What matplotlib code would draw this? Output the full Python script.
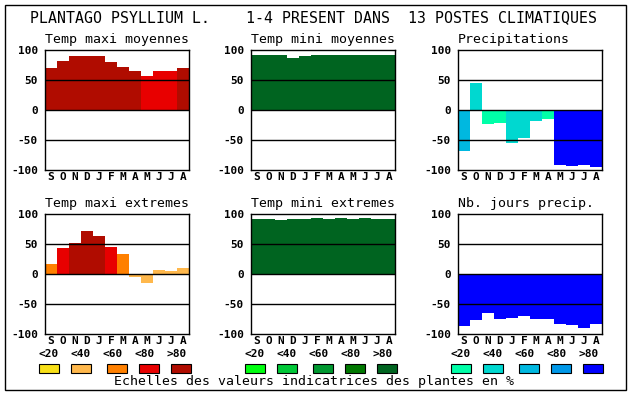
import matplotlib
matplotlib.use("Agg")
import matplotlib.pyplot as plt
from matplotlib.patches import Rectangle

W, H = 630, 394

months = ["S", "O", "N", "D", "J", "F", "M", "A", "M", "J", "J", "A"]
scale_labels = ["<20", "<40", "<60", "<80", ">80"]
yticks = [100, 50, 0, -50, -100]

red_scale = ["#f8e018", "#ffb84c", "#ff8000", "#e80000", "#b00c00"]
green_scale = ["#00ff10", "#00c838", "#009830", "#007800", "#006420"]
blue_scale = ["#00ffa8", "#00d8d0", "#00b8e0", "#0098e8", "#0000ff"]

title = "PLANTAGO PSYLLIUM L.    1-4 PRESENT DANS  13 POSTES CLIMATIQUES"
footer = "Echelles des valeurs indicatrices des plantes en %"

# panel data
tmax_moy = [70, 82, 90, 90, 90, 80, 72, 65, 57, 65, 65, 70]
tmax_moy_cls = [4, 4, 4, 4, 4, 4, 4, 4, 3, 3, 3, 4]

tmin_moy = [92, 92, 92, 87, 90.5, 92, 92, 92, 92, 92, 92, 92]
tmin_moy_cls = [4] * 12

precip = [-68, 45, -23.5, -22, -54.5, -46.5, -18, -14.5, -91.5, -93, -91.5, -95]
precip_cls = [2, 1, 0, 0, 1, 1, 1, 0, 4, 4, 4, 4]

tmax_ext = [17, 44, 52, 72, 64, 45.5, 34, -4.5, -14.5, 7, 5.5, 10.5]
tmax_ext_cls = [2, 3, 4, 4, 4, 3, 2, 1, 1, 1, 1, 1]

tmin_ext = [92, 92, 90.5, 92, 92, 94, 92, 94, 92, 94, 92, 92]
tmin_ext_cls = [4] * 12

nb_jours = [-87, -77, -65.5, -75.5, -74, -70.5, -75.5, -75.5, -84, -85.5, -90.5, -84]
nb_jours_cls = [4] * 12

panels = [
    ("Temp maxi moyennes", tmax_moy, tmax_moy_cls, red_scale, 45, 50),
    ("Temp mini moyennes", tmin_moy, tmin_moy_cls, green_scale, 251, 50),
    ("Precipitations", precip, precip_cls, blue_scale, 458, 50),
    ("Temp maxi extremes", tmax_ext, tmax_ext_cls, red_scale, 45, 214),
    ("Temp mini extremes", tmin_ext, tmin_ext_cls, green_scale, 251, 214),
    ("Nb. jours precip.", nb_jours, nb_jours_cls, blue_scale, 458, 214),
]

MONO = "DejaVu Sans Mono"

fig = plt.figure(figsize=(W / 100, H / 100), dpi=100)
fig.patch.set_facecolor("white")


def fx(px):
    return px / W


def fy(py):
    return 1 - py / H


# outer frame
fig.add_artist(Rectangle((fx(4.5), fy(390)), fx(626) - fx(4.5), fy(4.5) - fy(390),
                         transform=fig.transFigure, fill=False, edgecolor="black", lw=1.0))

fig.text(fx(314), fy(18), title, ha="center", va="center", family=MONO, fontsize=10.7)

AW, AH = 144, 120
for name, vals, cls, scale, left, top in panels:
    ax = fig.add_axes([fx(left), fy(top + AH), AW / W, AH / H])
    x = list(range(len(vals)))
    colors = [scale[c] for c in cls]
    ax.bar(x, vals, width=1.0, color=colors, linewidth=0, zorder=1)
    for yv in (50, 0, -50):
        ax.axhline(yv, color="black", lw=1.0, zorder=3)
    ax.set_xlim(-0.5, len(vals) - 0.5)
    ax.set_ylim(-100, 100)
    ax.set_yticks(yticks)
    ax.set_yticklabels([str(v) for v in yticks], family=MONO, fontweight="bold", fontsize=8)
    ax.set_xticks(x)
    ax.set_xticklabels(months, family=MONO, fontweight="bold", fontsize=8)
    ax.tick_params(axis="y", length=0, pad=5)
    ax.tick_params(axis="x", length=0, pad=1.5)
    for s in ax.spines.values():
        s.set_linewidth(1.0)
        s.set_zorder(4)
    fig.text(fx(left), fy(top - 11), name, ha="left", va="center", family=MONO, fontsize=9.5)

# legends
box_offsets = [0, 32, 68, 100, 132]
label_offsets = [10, 42, 74, 106, 138]
for base, scale in ((39, red_scale), (245, green_scale), (451, blue_scale)):
    for off, loff, col, lab in zip(box_offsets, label_offsets, scale, scale_labels):
        fig.add_artist(Rectangle((fx(base + off), fy(373)), 20 / W, 9 / H,
                                 transform=fig.transFigure, facecolor=col,
                                 edgecolor="black", lw=0.8))
        fig.text(fx(base + loff), fy(354), lab, ha="center", va="center",
                 family=MONO, fontweight="bold", fontsize=8)

fig.text(fx(314.5), fy(382), footer, ha="center", va="center", family=MONO, fontsize=9.5)

fig.savefig("out.png", dpi=100, facecolor="white")
